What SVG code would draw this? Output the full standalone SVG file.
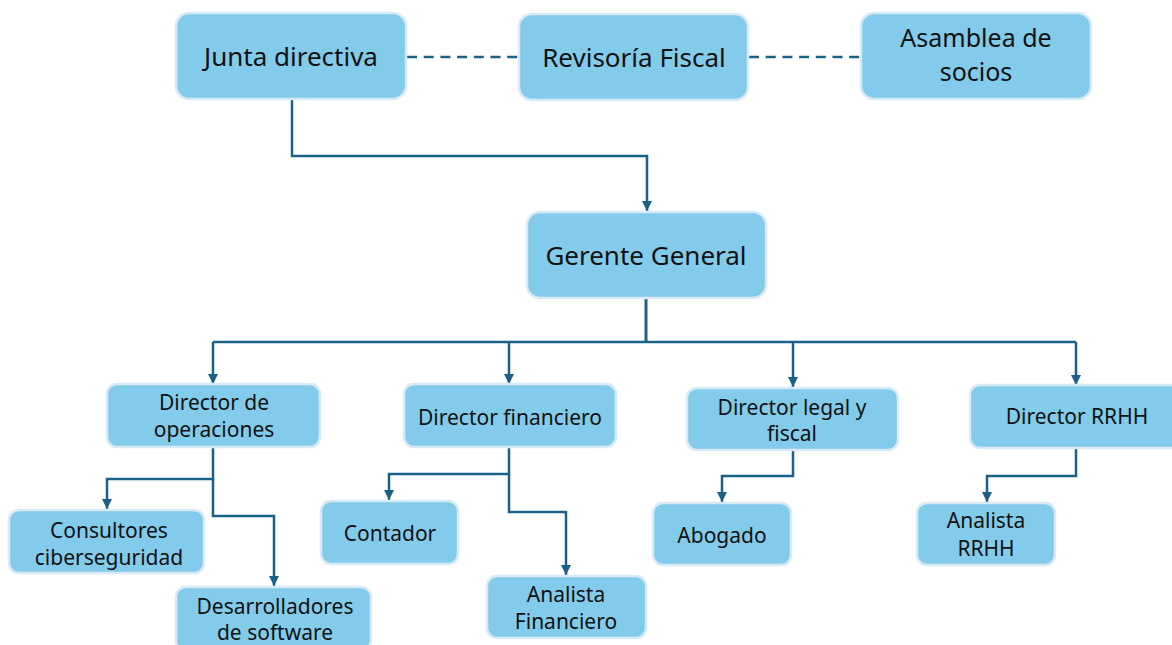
<svg xmlns="http://www.w3.org/2000/svg" width="1172" height="645" viewBox="0 0 1172 645">
<defs>
<marker id="arr" viewBox="0 0 10 10" refX="10" refY="5" markerWidth="4" markerHeight="4" markerUnits="strokeWidth" orient="auto">
<path d="M0,0 L10,5 L0,10 z" fill="#1b6087"/>
</marker>
<style>
.box{fill:#83cbeb;stroke:#d8eaf6;stroke-width:2.5}
.t{font-family:"Noto Sans","Open Sans","DejaVu Sans",sans-serif;fill:#111;text-anchor:middle}
.big{font-size:26px}
.sm{font-size:21px}
.c{fill:none;stroke:#1b6087;stroke-width:2.5}
.a{marker-end:url(#arr)}
.d{stroke-dasharray:10 6.7}
</style>
</defs>
<rect width="1172" height="645" fill="#fff"/>
<g id="connectors">
<line class="c d" x1="407" y1="57" x2="519" y2="57"/>
<line class="c d" x1="749" y1="57" x2="861" y2="57"/>
<path class="c a" d="M292,99 V156 H647 V211"/>
<path class="c" style="stroke-width:3" d="M646,299 V342"/>
<path class="c" d="M213,342 H1076"/>
<path class="c a" d="M213,342 V384"/>
<path class="c a" d="M509,342 V384"/>
<path class="c a" d="M793,342 V387"/>
<path class="c a" d="M1076,342 V385"/>
<path class="c a" d="M213,448 V479 H107 V509"/>
<path class="c a" d="M213,479 V516 H274 V586"/>
<path class="c a" d="M509,447 V474 H389 V500"/>
<path class="c a" d="M509,474 V512 H566 V575"/>
<path class="c a" d="M793,450 V476 H722 V502"/>
<path class="c a" d="M1076,448 V476 H987 V502"/>
</g>
<g id="junta"><rect class="box" x="176" y="13" width="230" height="86" rx="13"/><text class="t big" x="291" y="66">Junta directiva</text></g>
<g id="revisoria"><rect class="box" x="519" y="14" width="229" height="86" rx="13"/><text class="t big" x="634" y="67">Revisoría Fiscal</text></g>
<g id="asamblea"><rect class="box" x="861" y="13" width="230" height="86" rx="13"/><text class="t" style="font-size:25px" x="976" y="47">Asamblea de</text><text class="t" style="font-size:25px" x="976" y="81">socios</text></g>
<g id="gerente"><rect class="box" x="527" y="212" width="239" height="86" rx="13"/><text class="t big" x="646" y="265">Gerente General</text></g>
<g id="dir-operaciones"><rect class="box" x="107" y="384" width="213" height="63" rx="10"/><text class="t sm" x="214" y="410">Director de</text><text class="t sm" x="214" y="437">operaciones</text></g>
<g id="dir-financiero"><rect class="box" x="404" y="384" width="212" height="63" rx="10"/><text class="t sm" x="510" y="425">Director financiero</text></g>
<g id="dir-legal"><rect class="box" x="687" y="388" width="211" height="62" rx="10"/><text class="t sm" x="792" y="415">Director legal y</text><text class="t sm" x="792" y="441">fiscal</text></g>
<g id="dir-rrhh"><rect class="box" x="970" y="385" width="215" height="63" rx="10"/><text class="t sm" x="1077" y="424">Director RRHH</text></g>
<g id="consultores"><rect class="box" x="9" y="510" width="195" height="63" rx="10"/><text class="t sm" x="109" y="538">Consultores</text><text class="t sm" x="109" y="565">ciberseguridad</text></g>
<g id="desarrolladores"><rect class="box" x="176" y="587" width="195" height="63" rx="10"/><text class="t sm" x="275" y="614">Desarrolladores</text><text class="t sm" x="275" y="640">de software</text></g>
<g id="contador"><rect class="box" x="321" y="501" width="137" height="63" rx="10"/><text class="t sm" x="390" y="541">Contador</text></g>
<g id="analista-fin"><rect class="box" x="487" y="576" width="159" height="62" rx="10"/><text class="t sm" x="566" y="602">Analista</text><text class="t sm" x="566" y="629">Financiero</text></g>
<g id="abogado"><rect class="box" x="653" y="503" width="138" height="62" rx="10"/><text class="t sm" x="722" y="543">Abogado</text></g>
<g id="analista-rrhh"><rect class="box" x="917" y="503" width="138" height="62" rx="10"/><text class="t sm" x="986" y="528">Analista</text><text class="t sm" x="986" y="556">RRHH</text></g>
</svg>
